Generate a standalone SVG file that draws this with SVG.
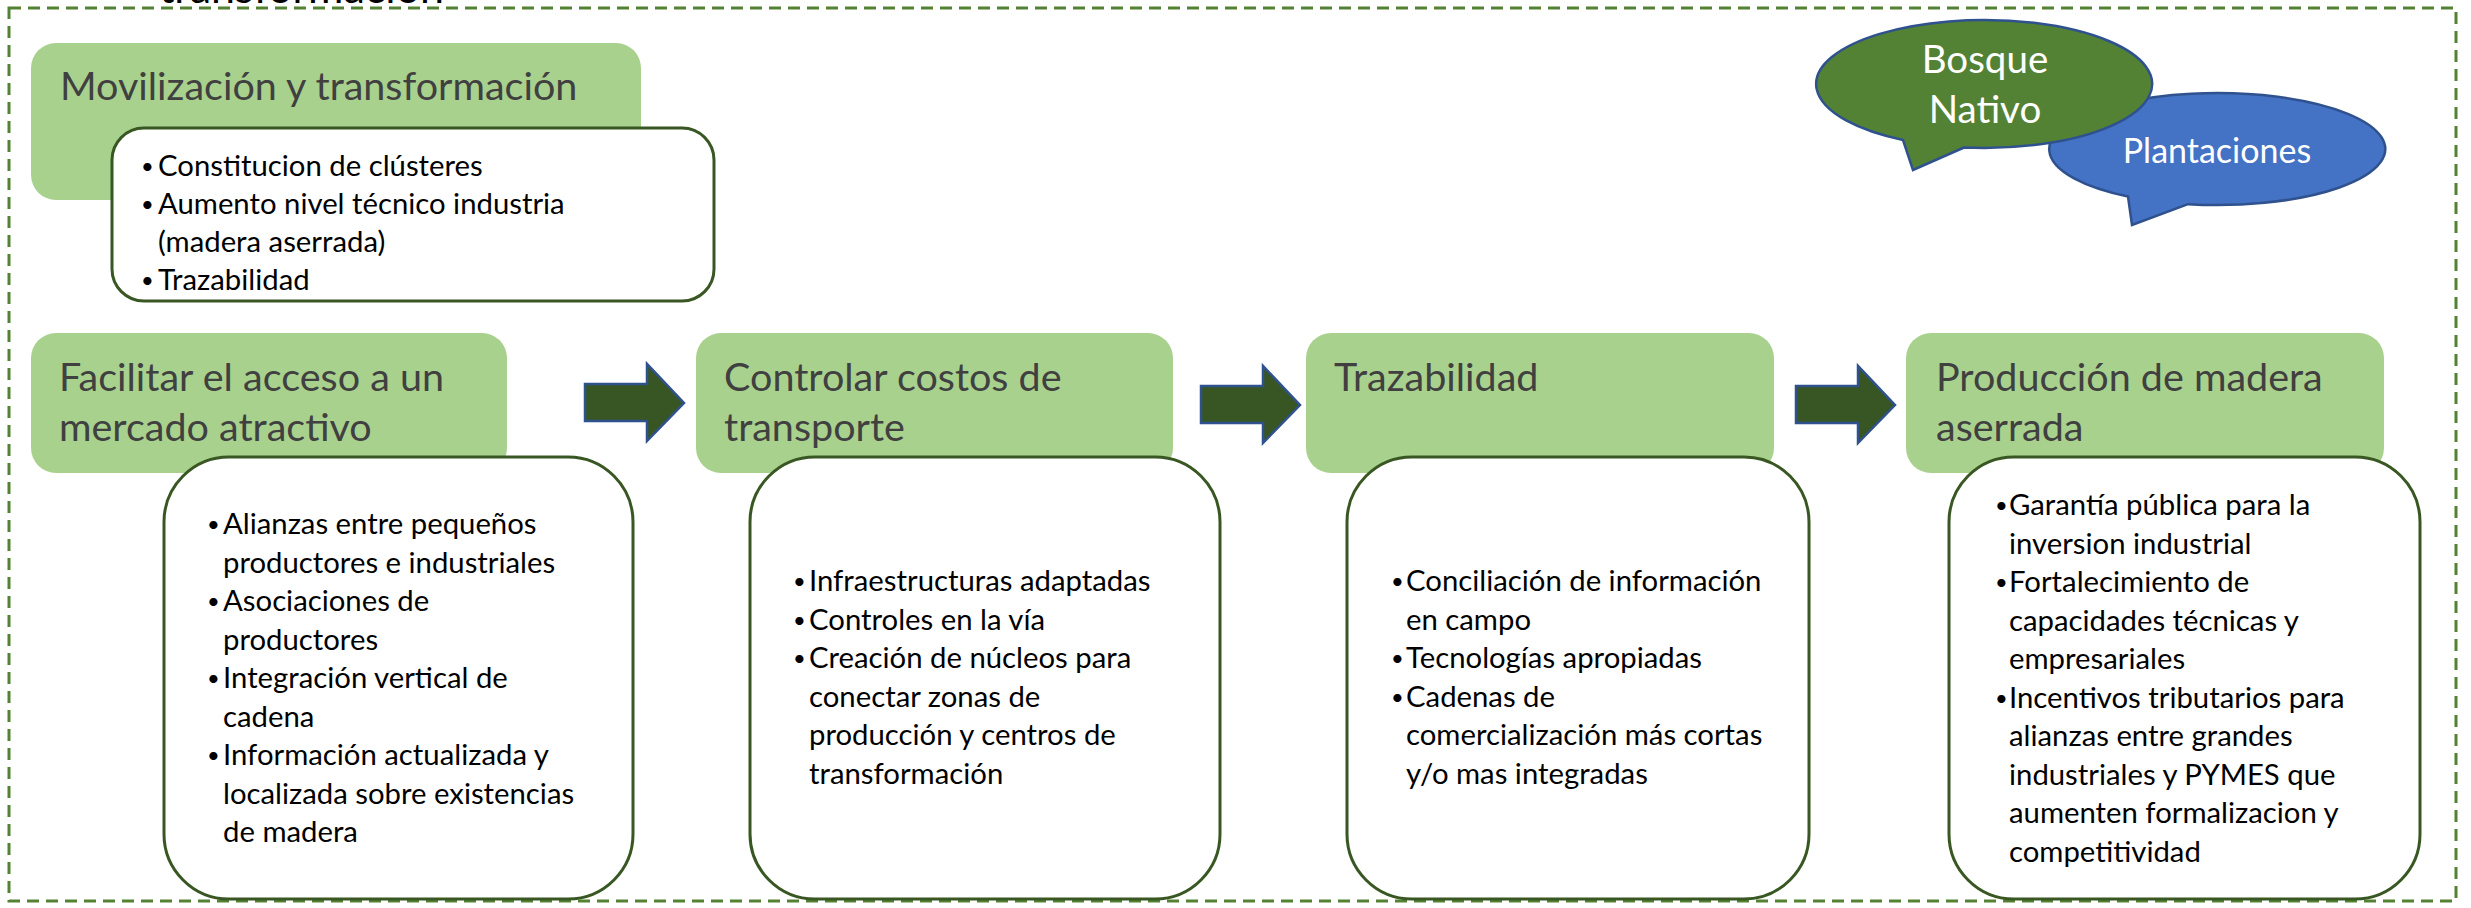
<svg xmlns="http://www.w3.org/2000/svg" width="2471" height="908" viewBox="0 0 2471 908">
<style>
text{font-family:Lato,"Liberation Sans",sans-serif}
.hdr{fill:#A9D18E}
.ttl{font-size:39.5px;fill:#404040}
.box{fill:#fff;stroke:#385723;stroke-width:3}
.bt{font-size:29.3px;fill:#000}
.bul{font-size:22px;fill:#000}
.arrow{fill:#375623;stroke:#2F528F;stroke-width:2.5}
.bub{stroke:#2F528F;stroke-width:2.5}
.wt{fill:#fff;text-anchor:middle}
</style>
<defs>
<path id="arr" d="M585,384 H647 V364 L684,403 L647,441 V421 H585 Z"/>
</defs>
<rect x="9" y="8" width="2447" height="893" fill="none" stroke="#548235" stroke-width="3" stroke-dasharray="12 7"/>
<text x="123" y="3" style="font-size:43px;fill:#000">• transformación</text>

<g id="movilizacion">
<rect class="hdr" x="31" y="43" width="610" height="157" rx="25"/>
<text class="ttl" x="60" y="100">Movilización y transformación</text>
<rect class="box" x="112" y="128" width="602" height="173" rx="32"/>
<text class="bul" x="141" y="174">•</text>
<text class="bt" x="158" y="176">Constitucion de clústeres</text>
<text class="bul" x="141" y="212">•</text>
<text class="bt" x="158" y="214">Aumento nivel técnico industria</text>
<text class="bt" x="158" y="252">(madera aserrada)</text>
<text class="bul" x="141" y="288">•</text>
<text class="bt" x="158" y="290">Trazabilidad</text>
</g>

<g id="bubbles">
<path class="bub" fill="#4472C4" d="M2188,204.2 L2132,225 L2128,196.5 A168,56 0 1 1 2188,204.2 Z"/>
<text class="wt" x="2217" y="163" style="font-size:34px">Plantaciones</text>
<path class="bub" fill="#548235" d="M1964,147.5 L1913,170 L1903,140 A168,64 0 1 1 1964,147.5 Z"/>
<text class="wt" x="1985" y="73" style="font-size:38.5px">Bosque</text>
<text class="wt" x="1985" y="123" style="font-size:38.5px">Nativo</text>
</g>

<g id="stage-mercado">
<rect class="hdr" x="31" y="333" width="476" height="140" rx="25"/>
<text class="ttl" x="59" y="391">Facilitar el acceso a un</text>
<text class="ttl" x="59" y="441">mercado atractivo</text>
<rect class="box" x="164" y="457" width="469" height="442" rx="65"/>
<g class="bt">
<text x="223" y="534">Alianzas entre pequeños</text>
<text x="223" y="572.5">productores e industriales</text>
<text x="223" y="611">Asociaciones de</text>
<text x="223" y="649.5">productores</text>
<text x="223" y="688">Integración vertical de</text>
<text x="223" y="726.5">cadena</text>
<text x="223" y="765">Información actualizada y</text>
<text x="223" y="803.5">localizada sobre existencias</text>
<text x="223" y="842">de madera</text>
</g>
<g class="bul">
<text x="207" y="532">•</text>
<text x="207" y="609">•</text>
<text x="207" y="686">•</text>
<text x="207" y="763">•</text>
</g>
</g>

<g id="stage-transporte">
<rect class="hdr" x="696" y="333" width="477" height="140" rx="25"/>
<text class="ttl" x="724" y="391">Controlar costos de</text>
<text class="ttl" x="724" y="441">transporte</text>
<rect class="box" x="750" y="457" width="470" height="442" rx="65"/>
<g class="bt">
<text x="809" y="591">Infraestructuras adaptadas</text>
<text x="809" y="629.5">Controles en la vía</text>
<text x="809" y="668">Creación de núcleos para</text>
<text x="809" y="706.5">conectar zonas de</text>
<text x="809" y="745">producción y centros de</text>
<text x="809" y="783.5">transformación</text>
</g>
<g class="bul">
<text x="793" y="589">•</text>
<text x="793" y="627.5">•</text>
<text x="793" y="666">•</text>
</g>
</g>

<g id="stage-trazabilidad">
<rect class="hdr" x="1306" y="333" width="468" height="140" rx="25"/>
<text class="ttl" x="1334" y="391">Trazabilidad</text>
<rect class="box" x="1347" y="457" width="462" height="442" rx="65"/>
<g class="bt">
<text x="1406" y="591">Conciliación de información</text>
<text x="1406" y="629.5">en campo</text>
<text x="1406" y="668">Tecnologías apropiadas</text>
<text x="1406" y="706.5">Cadenas de</text>
<text x="1406" y="745">comercialización más cortas</text>
<text x="1406" y="783.5">y/o mas integradas</text>
</g>
<g class="bul">
<text x="1391" y="589">•</text>
<text x="1391" y="666">•</text>
<text x="1391" y="704.5">•</text>
</g>
</g>

<g id="stage-produccion">
<rect class="hdr" x="1906" y="333" width="478" height="140" rx="25"/>
<text class="ttl" x="1936" y="391">Producción de madera</text>
<text class="ttl" x="1936" y="441">aserrada</text>
<rect class="box" x="1949" y="457" width="471" height="442" rx="65"/>
<g class="bt">
<text x="2009" y="515">Garantía pública para la</text>
<text x="2009" y="553.5">inversion industrial</text>
<text x="2009" y="592">Fortalecimiento de</text>
<text x="2009" y="630.5">capacidades técnicas y</text>
<text x="2009" y="669">empresariales</text>
<text x="2009" y="707.5">Incentivos tributarios para</text>
<text x="2009" y="746">alianzas entre grandes</text>
<text x="2009" y="784.5">industriales y PYMES que</text>
<text x="2009" y="823">aumenten formalizacion y</text>
<text x="2009" y="861.5">competitividad</text>
</g>
<g class="bul">
<text x="1995" y="513">•</text>
<text x="1995" y="590">•</text>
<text x="1995" y="705.5">•</text>
</g>
</g>

<g id="connectors">
<use href="#arr" class="arrow"/>
<use href="#arr" class="arrow" transform="translate(616,2)"/>
<use href="#arr" class="arrow" transform="translate(1211,2)"/>
</g>
</svg>
